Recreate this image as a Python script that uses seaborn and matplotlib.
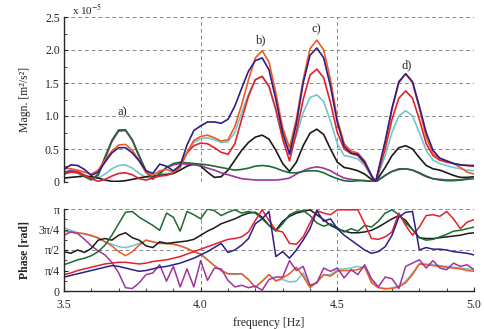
import numpy as np
import pandas as pd
import matplotlib
matplotlib.use("Agg")
import matplotlib.pyplot as plt
from matplotlib.ticker import MultipleLocator, FixedLocator, FixedFormatter
import seaborn as sns

# ---------------- data ----------------
freq_mag = [3.500, 3.525, 3.550, 3.575, 3.600, 3.625, 3.650, 3.675, 3.700, 3.725,
            3.750, 3.775, 3.800, 3.825, 3.850, 3.875, 3.900, 3.925, 3.950, 3.975,
            4.000, 4.025, 4.050, 4.075, 4.100, 4.125, 4.150, 4.175, 4.200, 4.225,
            4.250, 4.275, 4.300, 4.325, 4.350, 4.375, 4.400, 4.425, 4.450, 4.475,
            4.500, 4.525, 4.550, 4.575, 4.600, 4.625, 4.640, 4.675, 4.700, 4.725,
            4.750, 4.775, 4.800, 4.825, 4.850, 4.875, 4.900, 4.925, 4.950, 4.975, 5.000]

# magnitudes in units of 1e-5 m^2/s^2
mag_green = [0.13, 0.16, 0.14, 0.08, 0.03, 0.12, 0.38, 0.63, 0.79, 0.79,
             0.64, 0.40, 0.17, 0.06, 0.12, 0.22, 0.28, 0.30, 0.29, 0.28,
             0.27, 0.26, 0.24, 0.22, 0.20, 0.18, 0.19, 0.21, 0.24, 0.25,
             0.24, 0.21, 0.17, 0.14, 0.14, 0.16, 0.17, 0.17, 0.14, 0.09,
             0.05, 0.02, 0.01, 0.02, 0.02, 0.01, 0.00, 0.10, 0.16, 0.19,
             0.20, 0.18, 0.14, 0.09, 0.05, 0.03, 0.02, 0.02, 0.03, 0.05, 0.07]
mag_magenta = [0.15, 0.17, 0.16, 0.10, 0.04, 0.10, 0.35, 0.61, 0.77, 0.78,
               0.63, 0.38, 0.15, 0.04, 0.14, 0.22, 0.26, 0.28, 0.27, 0.26,
               0.25, 0.21, 0.18, 0.14, 0.11, 0.08, 0.05, 0.04, 0.03, 0.03,
               0.03, 0.03, 0.04, 0.06, 0.12, 0.17, 0.21, 0.23, 0.21, 0.17,
               0.11, 0.06, 0.04, 0.03, 0.02, 0.01, 0.00, 0.10, 0.16, 0.20,
               0.20, 0.18, 0.13, 0.08, 0.05, 0.04, 0.03, 0.03, 0.03, 0.04, 0.05]
mag_black = [0.06, 0.07, 0.08, 0.09, 0.08, 0.06, 0.03, 0.01, 0.01, 0.02,
             0.04, 0.06, 0.08, 0.09, 0.10, 0.11, 0.13, 0.18, 0.24, 0.27,
             0.24, 0.15, 0.07, 0.08, 0.18, 0.33, 0.48, 0.60, 0.68, 0.71,
             0.65, 0.48, 0.28, 0.16, 0.30, 0.55, 0.74, 0.80, 0.72, 0.50,
             0.30, 0.22, 0.20, 0.17, 0.12, 0.04, 0.00, 0.22, 0.40, 0.52,
             0.55, 0.50, 0.37, 0.25, 0.20, 0.18, 0.14, 0.10, 0.07, 0.07, 0.08]
mag_cyan = [0.15, 0.18, 0.16, 0.11, 0.06, 0.06, 0.12, 0.20, 0.25, 0.26,
            0.21, 0.13, 0.07, 0.08, 0.12, 0.13, 0.13, 0.22, 0.45, 0.60,
            0.66, 0.67, 0.64, 0.60, 0.61, 0.75, 1.05, 1.33, 1.55, 1.60,
            1.45, 1.08, 0.68, 0.45, 0.70, 1.05, 1.28, 1.32, 1.22, 0.92,
            0.58, 0.40, 0.38, 0.35, 0.25, 0.08, 0.00, 0.40, 0.75, 1.00,
            1.08, 1.00, 0.75, 0.48, 0.33, 0.28, 0.25, 0.22, 0.20, 0.18, 0.17]
mag_red = [0.12, 0.15, 0.14, 0.10, 0.05, 0.01, 0.04, 0.09, 0.13, 0.14,
           0.11, 0.05, 0.03, 0.06, 0.09, 0.10, 0.14, 0.25, 0.44, 0.55,
           0.59, 0.58, 0.52, 0.45, 0.42, 0.58, 0.95, 1.30, 1.55, 1.60,
           1.45, 1.10, 0.65, 0.32, 0.75, 1.25, 1.62, 1.71, 1.58, 1.20,
           0.75, 0.50, 0.43, 0.40, 0.28, 0.09, 0.00, 0.50, 0.95, 1.27,
           1.38, 1.27, 0.95, 0.58, 0.40, 0.33, 0.30, 0.28, 0.26, 0.25, 0.24]
mag_orange = [0.21, 0.20, 0.18, 0.15, 0.12, 0.18, 0.33, 0.47, 0.56, 0.57,
              0.48, 0.32, 0.14, 0.10, 0.17, 0.19, 0.15, 0.22, 0.45, 0.63,
              0.69, 0.71, 0.67, 0.62, 0.64, 0.84, 1.17, 1.55, 1.88, 1.99,
              1.82, 1.35, 0.82, 0.52, 0.95, 1.55, 2.02, 2.15, 2.00, 1.55,
              0.95, 0.58, 0.47, 0.44, 0.32, 0.10, 0.00, 0.58, 1.10, 1.50,
              1.64, 1.50, 1.12, 0.68, 0.43, 0.36, 0.32, 0.28, 0.22, 0.15, 0.12]
mag_indigo = [0.19, 0.26, 0.25, 0.19, 0.10, 0.15, 0.30, 0.44, 0.52, 0.52,
              0.44, 0.32, 0.17, 0.13, 0.27, 0.24, 0.17, 0.25, 0.56, 0.78,
              0.85, 0.91, 0.91, 0.89, 0.95, 1.15, 1.42, 1.68, 1.84, 1.88,
              1.70, 1.25, 0.75, 0.42, 0.88, 1.50, 1.92, 2.03, 1.88, 1.45,
              0.90, 0.54, 0.44, 0.42, 0.30, 0.10, 0.00, 0.62, 1.12, 1.52,
              1.64, 1.52, 1.15, 0.75, 0.48, 0.36, 0.32, 0.28, 0.26, 0.25, 0.25]

freq_phase = [3.500, 3.525, 3.550, 3.575, 3.600, 3.625, 3.650, 3.675, 3.700, 3.725,
              3.750, 3.775, 3.800, 3.825, 3.850, 3.875, 3.900, 3.925, 3.950, 3.975,
              4.000, 4.025, 4.050, 4.075, 4.100, 4.125, 4.150, 4.175, 4.200, 4.225,
              4.250, 4.275, 4.300, 4.325, 4.350, 4.375, 4.400, 4.425, 4.450, 4.475,
              4.500, 4.525, 4.550, 4.575, 4.600, 4.625, 4.650, 4.675, 4.700, 4.725,
              4.750, 4.775, 4.800, 4.825, 4.850, 4.875, 4.900, 4.925, 4.950, 4.975, 5.000]

# phases as fractions of pi
ph_green = [0.32, 0.35, 0.38, 0.40, 0.43, 0.48, 0.56, 0.68, 0.82, 0.96,
            0.97, 0.90, 0.85, 0.80, 0.74, 0.95, 0.90, 0.73, 0.97, 0.93,
            0.88, 1.00, 0.98, 0.92, 0.96, 0.99, 0.95, 0.97, 0.95, 0.88,
            0.80, 0.73, 0.82, 0.93, 0.97, 0.98, 0.92, 0.83, 0.79, 0.82,
            0.77, 0.72, 0.76, 0.73, 0.80, 0.78, 0.85, 0.95, 0.99, 0.93,
            0.83, 0.75, 0.65, 0.62, 0.63, 0.66, 0.69, 0.73, 0.74, 0.76, 0.78]
ph_black = [0.48, 0.46, 0.50, 0.47, 0.52, 0.62, 0.64, 0.62, 0.68, 0.71,
            0.65, 0.62, 0.55, 0.53, 0.60, 0.58, 0.59, 0.60, 0.61, 0.63,
            0.68, 0.73, 0.77, 0.82, 0.85, 0.88, 0.92, 0.95, 0.96, 0.90,
            0.80, 0.74, 0.85, 0.91, 0.95, 0.97, 0.99, 0.93, 0.87, 0.80,
            0.76, 0.73, 0.71, 0.71, 0.72, 0.74, 0.78, 0.83, 0.88, 0.92,
            0.86, 0.75, 0.65, 0.64, 0.64, 0.65, 0.66, 0.67, 0.68, 0.70, 0.71]
ph_red = [0.20, 0.22, 0.25, 0.27, 0.29, 0.31, 0.33, 0.34, 0.35, 0.35,
          0.34, 0.33, 0.34, 0.36, 0.37, 0.38, 0.40, 0.42, 0.45, 0.48,
          0.51, 0.54, 0.57, 0.60, 0.63, 0.64, 0.66, 0.72, 0.86, 0.99,
          0.86, 0.74, 0.72, 0.58, 0.57, 0.66, 0.83, 0.98, 0.95, 0.93,
          0.99, 0.99, 0.99, 0.99, 0.82, 0.64, 0.63, 0.66, 0.72, 0.95,
          0.80, 0.68, 0.78, 0.92, 0.93, 0.91, 0.97, 0.88, 0.76, 0.84, 0.87]
ph_indigo = [0.17, 0.19, 0.21, 0.23, 0.25, 0.27, 0.29, 0.31, 0.30, 0.28,
             0.26, 0.24, 0.25, 0.27, 0.29, 0.30, 0.32, 0.34, 0.37, 0.40,
             0.44, 0.48, 0.53, 0.58, 0.47, 0.50, 0.56, 0.64, 0.82, 0.88,
             0.97, 0.42, 0.48, 0.40, 0.50, 0.62, 0.76, 0.98, 0.85, 0.88,
             0.76, 0.68, 0.62, 0.56, 0.50, 0.46, 0.48, 0.54, 0.68, 0.90,
             0.96, 0.97, 0.50, 0.53, 0.51, 0.51, 0.50, 0.48, 0.47, 0.46, 0.44]
ph_orange = [0.73, 0.72, 0.71, 0.70, 0.68, 0.65, 0.60, 0.55, 0.48, 0.43,
             0.48, 0.56, 0.62, 0.60, 0.58, 0.58, 0.57, 0.55, 0.52, 0.48,
             0.45, 0.38, 0.31, 0.25, 0.21, 0.21, 0.21, 0.14, 0.04, 0.12,
             0.20, 0.12, 0.16, 0.21, 0.29, 0.18, 0.04, 0.11, 0.20, 0.18,
             0.24, 0.25, 0.25, 0.26, 0.30, 0.10, 0.04, 0.03, 0.03, 0.05,
             0.10, 0.20, 0.33, 0.32, 0.31, 0.30, 0.29, 0.28, 0.27, 0.25, 0.24]
ph_cyan = [0.77, 0.74, 0.71, 0.69, 0.67, 0.64, 0.60, 0.57, 0.54, 0.53,
           0.55, 0.58, 0.62, 0.60, 0.58, 0.58, 0.57, 0.55, 0.52, 0.48,
           0.45, 0.38, 0.31, 0.25, 0.21, 0.20, 0.21, 0.14, 0.05, 0.12,
           0.20, 0.13, 0.14, 0.11, 0.12, 0.22, 0.06, 0.10, 0.20, 0.20,
           0.26, 0.27, 0.28, 0.30, 0.28, 0.12, 0.05, 0.02, 0.04, 0.06,
           0.12, 0.22, 0.33, 0.33, 0.32, 0.31, 0.30, 0.29, 0.28, 0.27, 0.26]
ph_magenta = [0.68, 0.72, 0.70, 0.63, 0.55, 0.49, 0.44, 0.35, 0.22, 0.04,
              0.03, 0.10, 0.20, 0.22, 0.32, 0.12, 0.30, 0.05, 0.27, 0.05,
              0.37, 0.13, 0.28, 0.27, 0.13, 0.05, 0.07, 0.04, 0.06, 0.01,
              0.14, 0.17, 0.17, 0.37, 0.25, 0.30, 0.07, 0.10, 0.28, 0.24,
              0.28, 0.16, 0.26, 0.20, 0.32, 0.15, 0.05, 0.17, 0.15, 0.03,
              0.30, 0.34, 0.38, 0.28, 0.37, 0.28, 0.26, 0.34, 0.30, 0.32, 0.26]

series_names = ["cyan", "black", "magenta", "green", "red", "orange", "indigo"]
colors = {"green": "#1d6b30", "magenta": "#a0349c", "black": "#1a1a1a",
          "cyan": "#72c6cc", "red": "#e5202b", "orange": "#f05a22", "indigo": "#2f1d8a"}

mag_data = {"green": mag_green, "magenta": mag_magenta, "black": mag_black,
            "cyan": mag_cyan, "red": mag_red, "orange": mag_orange, "indigo": mag_indigo}
ph_data = {"green": ph_green, "magenta": ph_magenta, "black": ph_black,
           "cyan": ph_cyan, "red": ph_red, "orange": ph_orange, "indigo": ph_indigo}
ph_order = ["cyan", "orange", "magenta", "black", "green", "red", "indigo"]

peak_labels = ["a)", "b)", "c)", "d)"]
peak_freq = [3.715, 4.223, 4.422, 4.755]
peak_height = [1.05, 2.15, 2.31, 1.77]

df_mag = pd.concat([pd.DataFrame({"freq": freq_mag, "val": mag_data[n], "series": n})
                    for n in series_names], ignore_index=True)
df_ph = pd.concat([pd.DataFrame({"freq": freq_phase, "val": np.array(ph_data[n]) * np.pi,
                                 "series": n}) for n in ph_order], ignore_index=True)

# ---------------- style ----------------
sns.set_style("ticks")
plt.rcParams["font.family"] = ["Liberation Serif", "DejaVu Serif"]
plt.rcParams["mathtext.fontset"] = "stix"

fig = plt.figure(figsize=(4.84, 3.29), dpi=100)
ax1 = fig.add_axes([64 / 484, 1 - 182 / 329, 410 / 484, 165 / 329])
ax2 = fig.add_axes([64 / 484, 1 - 291 / 329, 410 / 484, 82 / 329])

grid_kw = dict(color="#8a8a8a", lw=0.7, ls=(0, (4, 3)), zorder=0)

# top panel
sns.lineplot(data=df_mag, x="freq", y="val", hue="series", hue_order=series_names,
             palette=colors, legend=False, ax=ax1, lw=1.2, estimator=None)
ax1.set_xlim(3.5, 5.0)
ax1.set_ylim(0, 2.5)
for yv in [0, 0.5, 1.0, 1.5, 2.0, 2.5]:
    ax1.axhline(yv, **grid_kw)
for xv in [4.0, 4.5, 5.0]:
    ax1.axvline(xv, **grid_kw)
for s in ["top", "right", "bottom"]:
    ax1.spines[s].set_visible(False)
ax1.spines["left"].set_linewidth(1.0)
ax1.yaxis.set_major_locator(FixedLocator([0, 0.5, 1.0, 1.5, 2.0, 2.5]))
ax1.yaxis.set_major_formatter(FixedFormatter(["0", "0.5", "1.0", "1.5", "2.0", "2.5"]))
ax1.yaxis.set_minor_locator(MultipleLocator(0.25))
ax1.tick_params(axis="y", direction="in", length=3, width=0.8, labelsize=8.5, pad=3)
ax1.tick_params(axis="y", which="minor", direction="in", length=2, width=0.6)
ax1.set_xticks([])
ax1.set_xlabel("")
ax1.set_ylabel("Magn. [m²/s²]", fontsize=8.5, labelpad=10)
for lab, fx, fy in zip(peak_labels, peak_freq, peak_height):
    ax1.text(fx, fy, lab, ha="center", va="center", fontsize=9)
ax1.text(0.02, 1.0, "x 10$^{-5}$", transform=ax1.transAxes, fontsize=8,
         ha="left", va="bottom")

# bottom panel
sns.lineplot(data=df_ph, x="freq", y="val", hue="series", hue_order=ph_order,
             palette=colors, legend=False, ax=ax2, lw=1.1, estimator=None)
ax2.set_xlim(3.5, 5.0)
ax2.set_ylim(0, np.pi)
for yv in [np.pi / 2, np.pi]:
    ax2.axhline(yv, **grid_kw)
for xv in [4.0, 4.5, 5.0]:
    ax2.axvline(xv, **grid_kw)
for s in ["top", "right"]:
    ax2.spines[s].set_visible(False)
ax2.spines["left"].set_linewidth(1.0)
ax2.spines["bottom"].set_linewidth(1.0)
ax2.yaxis.set_major_locator(FixedLocator([0, np.pi / 4, np.pi / 2, 3 * np.pi / 4, np.pi]))
ax2.yaxis.set_major_formatter(FixedFormatter(["0", "π/4", "π/2", "3π/4", "π"]))
ax2.yaxis.set_minor_locator(MultipleLocator(np.pi / 8))
ax2.xaxis.set_major_locator(FixedLocator([3.5, 4.0, 4.5, 5.0]))
ax2.xaxis.set_major_formatter(FixedFormatter(["3.5", "4.0", "4.5", "5.0"]))
ax2.xaxis.set_minor_locator(MultipleLocator(0.1))
ax2.tick_params(direction="in", length=3, width=0.8, labelsize=8.5, pad=3)
ax2.tick_params(which="minor", direction="in", length=2, width=0.6)
ax2.tick_params(axis="x", pad=6)
ax2.set_xlabel("frequency [Hz]", fontsize=8.5, labelpad=4)
ax2.set_ylabel("Phase [rad]", fontsize=8.5, fontweight="bold", labelpad=6)

fig.savefig("out.png", dpi=100)
